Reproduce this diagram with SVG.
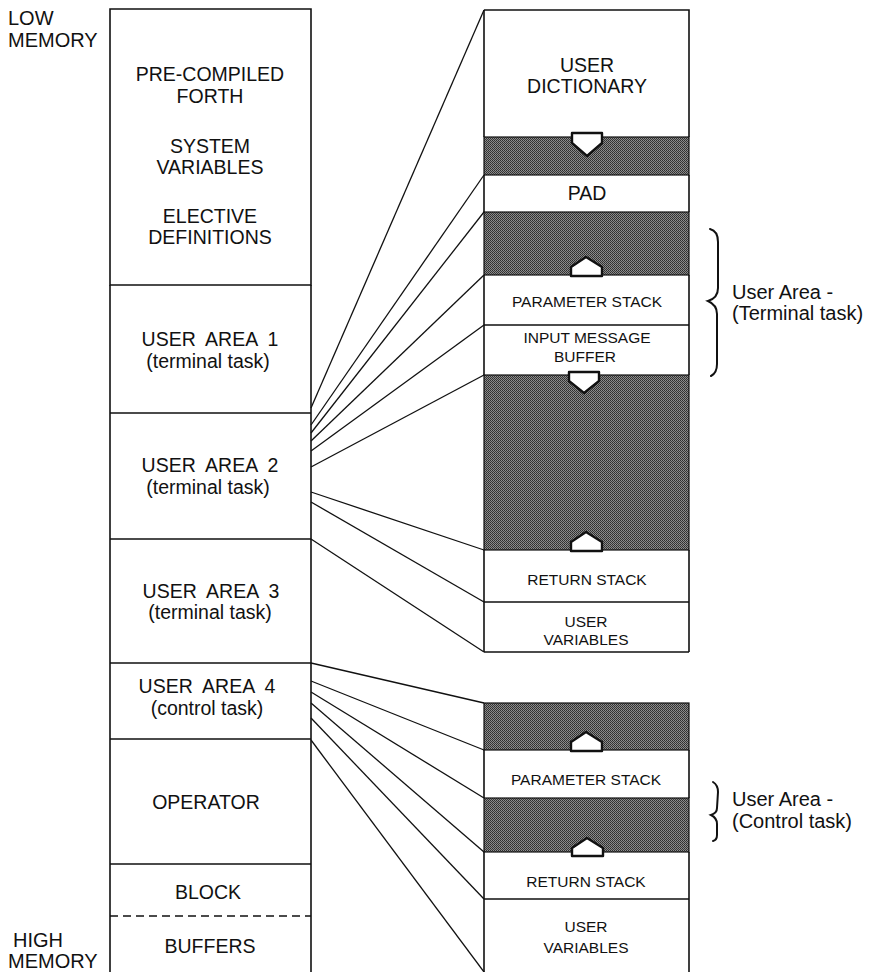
<svg xmlns="http://www.w3.org/2000/svg" width="876" height="972" viewBox="0 0 876 972">
<defs>
<pattern id="stip" width="2" height="2" patternUnits="userSpaceOnUse">
<rect x="0" y="0" width="1" height="1" fill="#2e2e2e"/>
<rect x="1" y="0" width="1" height="1" fill="#909090"/>
<rect x="0" y="1" width="1" height="1" fill="#858585"/>
<rect x="1" y="1" width="1" height="1" fill="#3a3a3a"/>
</pattern>
<style>
.t{font-family:"Liberation Sans",Arial,sans-serif;fill:#111;text-anchor:middle}
.big{font-size:19.5px}
.sm{font-size:15.5px}
.lbl{font-family:"Liberation Sans",Arial,sans-serif;fill:#111;font-size:20px}
.ln{stroke:#111;stroke-width:1.6;fill:none}
.gray{fill:url(#stip);stroke:#111;stroke-width:1.2}
.arr{fill:#fff;stroke:#111;stroke-width:2.4;stroke-linejoin:round}
.con{stroke:#111;stroke-width:1.3;fill:none}
.brace{stroke:#111;stroke-width:2;fill:none;stroke-linecap:round}
</style>
</defs>
<rect width="876" height="972" fill="#fff"/>

<g id="low-memory">
<text class="lbl" x="8" y="25">LOW</text>
<text class="lbl" x="8" y="47">MEMORY</text>
</g>
<g id="high-memory">
<text class="lbl" x="13" y="947">HIGH</text>
<text class="lbl" x="8" y="968">MEMORY</text>
</g>

<g id="precompiled">
<path class="ln" d="M110,9 H311 V285 H110 Z"/>
<text class="t big" x="210" y="81">PRE-COMPILED</text>
<text class="t big" x="210" y="103">FORTH</text>
<text class="t big" x="210" y="153">SYSTEM</text>
<text class="t big" x="210" y="174">VARIABLES</text>
<text class="t big" x="210" y="223">ELECTIVE</text>
<text class="t big" x="210" y="244">DEFINITIONS</text>
</g>
<g id="user-area-1">
<path class="ln" d="M110,285 V413 M311,285 V413 M110,413 H311"/>
<text class="t big" x="210" y="346" word-spacing="5">USER AREA 1</text>
<text class="t big" x="208" y="368">(terminal task)</text>
</g>
<g id="user-area-2">
<path class="ln" d="M110,413 V539 M311,413 V539 M110,539 H311"/>
<text class="t big" x="210" y="472" word-spacing="5">USER AREA 2</text>
<text class="t big" x="208" y="494">(terminal task)</text>
</g>
<g id="user-area-3">
<path class="ln" d="M110,539 V663 M311,539 V663 M110,663 H311"/>
<text class="t big" x="211" y="598" word-spacing="5">USER AREA 3</text>
<text class="t big" x="210" y="619">(terminal task)</text>
</g>
<g id="user-area-4">
<path class="ln" d="M110,663 V739 M311,663 V739 M110,739 H311"/>
<text class="t big" x="207" y="693" word-spacing="5">USER AREA 4</text>
<text class="t big" x="207" y="715">(control task)</text>
</g>
<g id="operator">
<path class="ln" d="M110,739 V864 M311,739 V864 M110,864 H311"/>
<text class="t big" x="206" y="809">OPERATOR</text>
</g>
<g id="block-buffers">
<path class="ln" d="M110,864 V972 M311,864 V972"/>
<line x1="110" y1="916" x2="311" y2="916" stroke="#111" stroke-width="1.3" stroke-dasharray="8,5"/>
<text class="t big" x="208" y="899">BLOCK</text>
<text class="t big" x="210" y="953">BUFFERS</text>
</g>

<g id="user-dictionary">
<path class="ln" d="M484,10 H689 V137 M484,10 V137"/>
<text class="t big" x="587" y="72">USER</text>
<text class="t big" x="587" y="93">DICTIONARY</text>
</g>
<g id="gap-1">
<rect class="gray" x="484" y="137" width="205" height="38"/>
<path class="arr" d="M572,133 H602 V143 L587,156 L572,143 Z"/>
</g>
<g id="pad">
<path class="ln" d="M484,175 V212 M689,175 V212"/>
<text class="t big" x="587" y="200">PAD</text>
</g>
<g id="gap-2">
<rect class="gray" x="484" y="212" width="205" height="63"/>
<path class="arr" d="M586,257 L602,267 V276 H571 V267 Z"/>
</g>
<g id="parameter-stack-1">
<path class="ln" d="M484,275 V325 M689,275 V325 M484,325 H689"/>
<text class="t sm" x="587" y="307">PARAMETER STACK</text>
</g>
<g id="input-message-buffer">
<path class="ln" d="M484,325 V375 M689,325 V375"/>
<text class="t sm" x="587" y="343">INPUT MESSAGE</text>
<text class="t sm" x="585" y="362">BUFFER</text>
</g>
<g id="gap-3">
<rect class="gray" x="484" y="375" width="205" height="175"/>
<path class="arr" d="M569,372 H599 V381 L584,393 L569,381 Z"/>
<path class="arr" d="M586,532 L602,542 V551 H571 V542 Z"/>
</g>
<g id="return-stack-1">
<path class="ln" d="M484,550 V602 M689,550 V602 M484,602 H689"/>
<text class="t sm" x="587" y="585">RETURN STACK</text>
</g>
<g id="user-variables-1">
<path class="ln" d="M484,602 V652 M689,602 V652 M484,652 H689"/>
<text class="t sm" x="586" y="627">USER</text>
<text class="t sm" x="586" y="645">VARIABLES</text>
</g>

<g id="gap-4">
<rect class="gray" x="484" y="703" width="205" height="47"/>
<path class="arr" d="M586,732 L602,742 V751 H571 V742 Z"/>
</g>
<g id="parameter-stack-2">
<path class="ln" d="M484,750 V798 M689,750 V798"/>
<text class="t sm" x="586" y="785">PARAMETER STACK</text>
</g>
<g id="gap-5">
<rect class="gray" x="484" y="798" width="205" height="54"/>
<path class="arr" d="M587,838 L603,848 V856 H572 V848 Z"/>
</g>
<g id="return-stack-2">
<path class="ln" d="M484,852 V899 M689,852 V899 M484,899 H689"/>
<text class="t sm" x="586" y="887">RETURN STACK</text>
</g>
<g id="user-variables-2">
<path class="ln" d="M484,899 V972 M689,899 V972"/>
<text class="t sm" x="586" y="932">USER</text>
<text class="t sm" x="586" y="953">VARIABLES</text>
</g>

<g id="terminal-brace">
<path class="brace" d="M710,229 Q718,231 718,242 L718,288 Q718,298 708,301 Q717,305 717,314 L717,364 Q717,373 711,376"/>
<text class="lbl" x="732" y="299">User Area -</text>
<text class="lbl" x="732" y="320">(Terminal task)</text>
</g>
<g id="control-brace">
<path class="brace" d="M713,782 Q718,785 718,792 L717,808 Q717,813 711,815 Q717,818 717,824 L717,835 Q717,840 713,841"/>
<text class="lbl" x="732" y="806">User Area -</text>
<text class="lbl" x="732" y="828">(Control task)</text>
</g>

<g id="connectors">
<line class="con" x1="311" y1="408" x2="484" y2="10"/>
<line class="con" x1="311" y1="425" x2="484" y2="175"/>
<line class="con" x1="311" y1="433" x2="484" y2="212"/>
<line class="con" x1="311" y1="441" x2="484" y2="275"/>
<line class="con" x1="311" y1="451" x2="484" y2="325"/>
<line class="con" x1="311" y1="467" x2="484" y2="375"/>
<line class="con" x1="311" y1="492" x2="484" y2="550"/>
<line class="con" x1="311" y1="502" x2="484" y2="602"/>
<line class="con" x1="311" y1="539" x2="484" y2="652"/>
<line class="con" x1="311" y1="663" x2="484" y2="703"/>
<line class="con" x1="311" y1="681" x2="484" y2="750"/>
<line class="con" x1="311" y1="692" x2="484" y2="798"/>
<line class="con" x1="311" y1="703" x2="484" y2="852"/>
<line class="con" x1="311" y1="718" x2="484" y2="899"/>
<line class="con" x1="311" y1="740" x2="484" y2="972"/>
</g>
</svg>
